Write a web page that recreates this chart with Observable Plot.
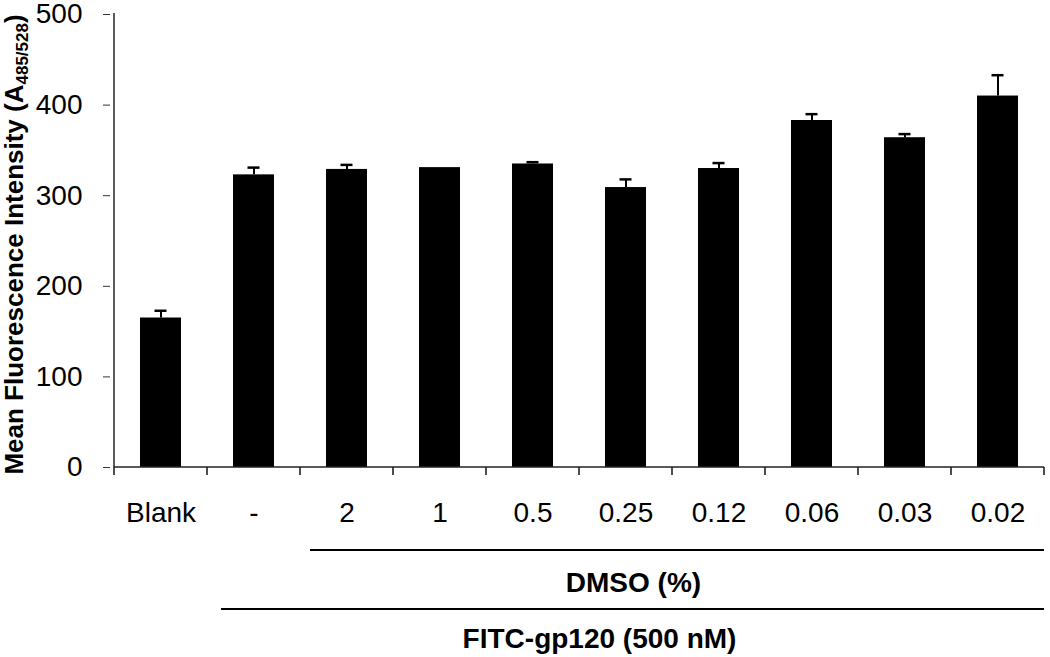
<!DOCTYPE html>
<html>
<head>
<meta charset="utf-8">
<script src="https://cdn.jsdelivr.net/npm/d3@7"></script>
<script src="https://cdn.jsdelivr.net/npm/@observablehq/plot@0.6"></script>
<style>
  html, body { margin: 0; padding: 0; background: #fff; }
  #chart svg { display: block; }
</style>
</head>
<body>
<div id="chart"></div>
<script>
const categories = ["Blank", "-", "2", "1", "0.5", "0.25", "0.12", "0.06", "0.03", "0.02"];
const means = [165, 323, 329, 331, 335, 309, 330, 383, 364, 410];
const errors = [8, 8, 5, 0, 2, 9, 6, 7, 4, 23];
const yTicks = [0, 100, 200, 300, 400, 500];
const groupLabels = ["DMSO (%)", "FITC-gp120 (500 nM)"];
const groupFirst = ["2", "-"];

const data = categories.map((c, i) => ({cat: c, mean: means[i], err: errors[i]}));
const withErr = data.filter(d => d.err > 0);
const font = "'Liberation Sans', Arial, Helvetica, sans-serif";

const plot = Plot.plot({
  width: 1050,
  height: 657,
  marginLeft: 110,
  marginRight: 2,
  marginTop: 14,
  marginBottom: 190,
  style: {fontFamily: font, fontSize: "28px", color: "#000", background: "#fff", overflow: "visible"},
  x: {domain: categories, paddingInner: 0.563, paddingOuter: 0.2815, label: null},
  y: {domain: [0, 500], label: null},
  marks: [
    Plot.barY(data, {x: "cat", y: "mean", fill: "#000"}),
    Plot.ruleX(withErr, {x: "cat", y1: "mean", y2: d => d.mean + d.err, stroke: "#000", strokeWidth: 2}),
    Plot.tickY(withErr, {x: "cat", y: d => d.mean + d.err, stroke: "#000", strokeWidth: 2.5, insetLeft: 14.5, insetRight: 14.5}),
    Plot.axisY({ticks: yTicks, tickSize: 7, tickPadding: 21, fontSize: 28, label: null, stroke: "#333"}),
    Plot.axisX({tickSize: 0, tickPadding: 35, fontSize: 28, label: null})
  ]
});

document.getElementById("chart").appendChild(plot);

const svg = d3.select(plot);
const xs = plot.scale("x");
const ys = plot.scale("y");
const step = xs.step;
const bw = xs.bandwidth;
const center = c => xs.apply(c) + bw / 2;
const y0 = ys.apply(0);
const yTop = ys.apply(500);
const xLeft = center(categories[0]) - step / 2;
const xRight = center(categories[categories.length - 1]) + step / 2;

const g = svg.append("g").attr("fill", "none");
// axis lines
g.append("line").attr("x1", xLeft).attr("x2", xLeft).attr("y1", yTop - 1).attr("y2", y0)
  .attr("stroke", "#333").attr("stroke-width", 1.6);
g.append("line").attr("x1", xLeft).attr("x2", xRight).attr("y1", y0).attr("y2", y0)
  .attr("stroke", "#222").attr("stroke-width", 1.6);
// category boundary ticks
const bounds = categories.map(c => center(c) - step / 2).concat([xRight]);
g.selectAll("line.b").data(bounds).join("line")
  .attr("x1", d => d).attr("x2", d => d).attr("y1", y0).attr("y2", y0 + 8)
  .attr("stroke", "#222").attr("stroke-width", 1.6);

// group brackets
const lineY = [y0 + 83, y0 + 142];
const lineOffset = [10, 14];
const textX = [center("0.25") + 8, center("0.5") + 67];
const textY = [y0 + 125, y0 + 181];
groupLabels.forEach((lab, i) => {
  const x1 = center(groupFirst[i]) - step / 2 + lineOffset[i];
  g.append("line").attr("x1", x1).attr("x2", xRight).attr("y1", lineY[i]).attr("y2", lineY[i])
    .attr("stroke", "#000").attr("stroke-width", 2.2);
  svg.append("text").attr("x", textX[i]).attr("y", textY[i])
    .attr("text-anchor", "middle").attr("font-family", font).attr("font-size", 28)
    .attr("font-weight", "bold").attr("fill", "#000").text(lab);
});

// y-axis title with subscript
const t = svg.append("text")
  .attr("transform", `translate(23, ${(yTop + y0) / 2 + 4}) rotate(-90)`)
  .attr("text-anchor", "middle").attr("font-family", font).attr("font-size", 26)
  .attr("font-weight", "bold").attr("fill", "#000");
t.append("tspan").text("Mean Fluorescence Intensity (A");
t.append("tspan").attr("font-size", 17).attr("dy", 5).text("485/528");
t.append("tspan").attr("dy", -5).text(")");
</script>
</body>
</html>
